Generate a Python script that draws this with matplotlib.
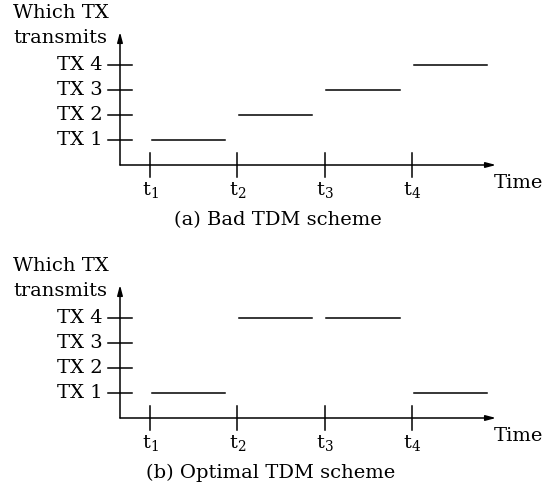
import matplotlib
matplotlib.use("Agg")
import matplotlib.pyplot as plt

# ---- data ----
slot_times = [1, 2, 3, 4]
time_labels = ["t$_1$", "t$_2$", "t$_3$", "t$_4$"]
tx_levels = [1, 2, 3, 4]
tx_labels = ["TX 1", "TX 2", "TX 3", "TX 4"]
bad_schedule = [1, 2, 3, 4]        # TX transmitting in each slot
optimal_schedule = [1, 4, 4, 1]
slot_start = 0.02
slot_end = 0.86
captions = ["(a) Bad TDM scheme", "(b) Optimal TDM scheme"]

plt.rcParams["font.family"] = ["DejaVu Serif"]
plt.rcParams["mathtext.fontset"] = "dejavuserif"

W, H = 559, 494
fig = plt.figure(figsize=(W / 100, H / 100), dpi=100)

PX_PER_T = 87.3
def t_of(px):
    return 1 + (px - 150) / PX_PER_T

PX_PER_L = 25.0
FS = 14
LW = 1.1


def draw_panel(ax, schedule, caption, axis_px, caption_x):
    ax.set_xlim(t_of(0), t_of(W))
    axes_h = ax.get_position().height * H
    ax.set_ylim(-(axes_h - axis_px) / PX_PER_L, axis_px / PX_PER_L)
    ax.axis("off")

    y_axis_t = t_of(120)
    arrow = dict(arrowstyle="-|>,head_length=0.6,head_width=0.16", lw=LW,
                 color="black", shrinkA=0, shrinkB=0)
    ax.annotate("", xy=(t_of(496), 0), xytext=(y_axis_t, 0), arrowprops=arrow)
    ax.annotate("", xy=(y_axis_t, 133 / PX_PER_L), xytext=(y_axis_t, 0), arrowprops=arrow)

    dt = 12 / PX_PER_T
    for lv, lab in zip(tx_levels, tx_labels):
        ax.plot([y_axis_t - dt, y_axis_t + dt], [lv, lv], color="black", lw=LW)
        ax.text(t_of(103), lv, lab, ha="right", va="center", fontsize=FS)
    dl = 12 / PX_PER_L
    for t, lab in zip(slot_times, time_labels):
        ax.plot([t, t], [-dl, dl], color="black", lw=LW)
        ax.text(t, -25 / PX_PER_L, lab, ha="center", va="center", fontsize=FS)
    ax.text(t_of(494), -18 / PX_PER_L, "Time", ha="left", va="center", fontsize=FS)

    ax.text(t_of(13), 152 / PX_PER_L, "Which TX", ha="left", va="center", fontsize=FS)
    ax.text(t_of(13), 127 / PX_PER_L, "transmits", ha="left", va="center", fontsize=FS)

    for t, lv in zip(slot_times, schedule):
        ax.plot([t + slot_start, t + slot_end], [lv, lv], color="black", lw=LW)

    ax.text(t_of(caption_x), -55 / PX_PER_L, caption, ha="center", va="center", fontsize=FS)


ax1 = fig.add_axes([0, 0.5, 1, 0.5])
draw_panel(ax1, bad_schedule, captions[0], axis_px=165, caption_x=278)
ax2 = fig.add_axes([0, 0, 1, 0.5])
draw_panel(ax2, optimal_schedule, captions[1], axis_px=418 - 247, caption_x=271)

fig.savefig("out.png", dpi=100)
